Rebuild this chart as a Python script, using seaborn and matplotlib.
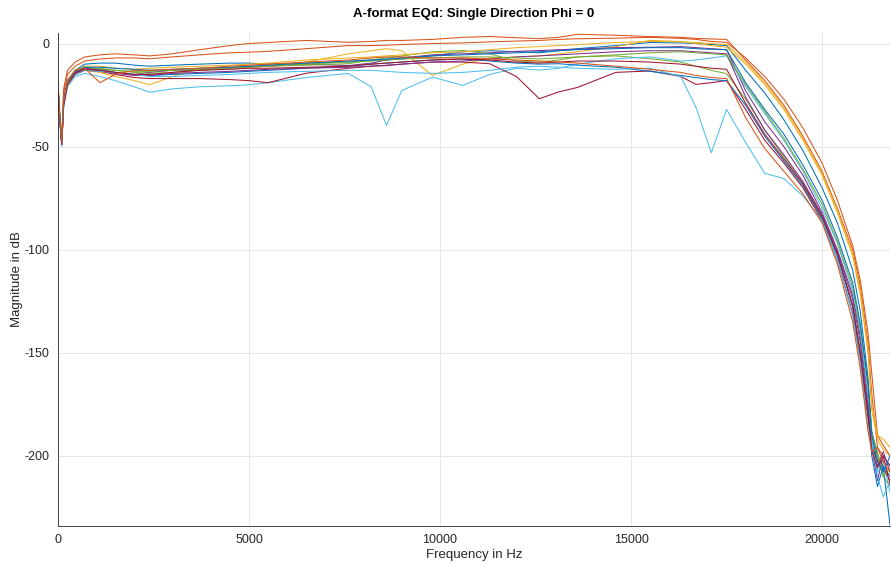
import numpy as np
import pandas as pd
import matplotlib
matplotlib.use("Agg")
import matplotlib.pyplot as plt
import seaborn as sns

freq = [0, 50, 100, 150, 250, 450, 700, 1100, 1500, 2000, 2400, 3000, 3700, 4500,
        5000, 5500, 6500, 7600, 8200, 8600, 9000, 9800, 10600, 11300, 12000, 12600,
        13100, 13600, 14600, 15500, 16300, 16700, 17100, 17500,
        18000, 18500, 19000, 19500, 20000, 20400, 20800, 21000, 21200, 21300,
        21450, 21600, 21780]

blue_a = [-20, -36, -48, -27, -18, -13, -10, -9.5, -9.5, -10.5, -11, -10.5, -10, -9.5,
          -9.5, -10, -9.5, -9, -8, -8, -7.5, -6, -4, -3.5, -4, -4.5,
          -3.5, -2.5, -1, 0.5, 0.3, 0, -0.5, -1,
          -13, -24, -37, -52, -70, -87, -110, -130, -162, -188, -200, -205, -210]
orange_a = [-18, -34, -46, -22, -13, -9, -6.5, -5.5, -5, -5.5, -6, -5, -3, -1,
            0, 0.5, 1.5, 0.6, 1, 1.5, 1.5, 2, 3, 3.4, 2.8, 2.4,
            3, 4.5, 4, 3.4, 3, 2.5, 2.2, 2,
            -8, -18, -30, -45, -62, -80, -100, -118, -145, -170, -196, -200, -205]
yellow_a = [-21, -37, -49, -30, -20, -15, -13, -14, -16, -18, -20, -16, -12, -12,
            -11.5, -11, -9, -5, -3.5, -2.5, -3.5, -15.5, -10, -7, -6.5, -6,
            -5, -4, -1.5, 1.5, 1, 0, -1, -1.8,
            -10, -20, -32, -47, -64, -82, -103, -122, -150, -178, -192, -197, -200]
purple_a = [-21, -37, -49, -29, -19, -14, -12, -12.5, -14, -15, -14, -13, -13, -12,
            -11, -11, -10, -10.7, -9.5, -8, -7, -5.5, -5, -4.5, -3.8, -3.4,
            -3, -2.7, -2, -1.8, -1.5, -2, -2.5, -3,
            -23, -38, -50, -64, -82, -100, -122, -142, -172, -193, -205, -198, -208]
green_a = [-20, -36, -48, -28, -19, -14, -12, -12.5, -13, -14, -14.5, -14, -13, -12,
           -11.5, -11, -10.5, -9.8, -8, -7, -6, -4, -3.4, -5, -8.5, -9,
           -8, -6.5, -6, -7.4, -9, -11, -13, -14.6,
           -27, -42, -55, -68, -84, -102, -127, -149, -178, -195, -200, -210, -215]
cyan_a = [-22, -38, -50, -31, -21, -16, -14.5, -16, -18, -21, -23.6, -22, -21, -20.5,
          -20, -19, -16.5, -14.5, -21, -39.7, -22.8, -16.3, -20.3, -15, -12, -12.9,
          -12, -10, -7.4, -6.5, -8.5, -8, -7, -6,
          -21, -34, -47, -62, -80, -97, -120, -140, -170, -192, -208, -202, -218]
maroon_a = [-21, -37, -49, -30, -20, -15, -13, -13.5, -15, -16.5, -17, -17, -17, -17.5,
            -18, -19, -14.4, -12, -11, -10.7, -10, -9, -9, -9.8, -16, -26.8,
            -23.5, -21.3, -14, -13.3, -16, -19.8, -19, -18,
            -32, -47, -58, -70, -86, -105, -131, -153, -182, -196, -202, -206, -212]
blue_b = [-20, -36, -48, -28, -19, -14, -12.5, -13, -14, -15, -15.5, -15, -14.5, -14,
          -13.5, -13, -12, -11, -10, -9.5, -9, -8, -7.5, -8.5, -9.5, -10,
          -9.8, -10.5, -11.5, -13.5, -15.5, -16.5, -17.5, -18,
          -30, -45, -57, -69, -85, -103, -128, -151, -180, -200, -215, -205, -234]
orange_b = [-19, -35, -47, -24, -15, -11, -8.5, -7.5, -7, -7, -7.4, -6.5, -5.5, -4.5,
            -4.2, -3.8, -2.5, -1, -1, -0.8, -0.5, 0, 0.3, 0.8, 1.2, 1.5,
            2, 2.3, 2.6, 3, 2.5, 2, 1, 0.6,
            -7, -16, -27, -41, -58, -76, -98, -115, -140, -160, -190, -195, -200]
yellow_b = [-20, -36, -48, -27, -18, -13, -11, -11, -12, -12.5, -12, -11.5, -11, -10.5,
            -10, -9.5, -8, -7, -6.5, -6, -5.5, -4.5, -4, -3, -2, -1.5,
            -1, -0.5, 0.5, 1, 0.8, 0.5, 0, -0.5,
            -9, -19, -31, -46, -63, -81, -102, -120, -148, -175, -190, -192, -196]
purple_b = [-21, -37, -49, -29, -19, -14, -12, -13, -14.5, -15.5, -15.5, -14.5, -14, -13.5,
            -13, -12.5, -12, -11.5, -11, -10.5, -10, -9, -8.5, -7.5, -6.5, -6,
            -5.5, -5, -4, -3.5, -3.5, -4, -4.5, -5,
            -26, -42, -54, -67, -83, -101, -124, -145, -176, -196, -212, -200, -205]
green_b = [-20, -36, -48, -28, -19, -13, -11.5, -12, -13, -13.5, -13.5, -13, -12.5, -12,
           -11.5, -11, -10, -9, -8.5, -8, -7.5, -7, -6.5, -6.5, -7, -7.5,
           -7, -6.5, -5.5, -4.5, -4, -4.5, -5, -5.5,
           -20, -33, -46, -61, -78, -96, -118, -138, -166, -189, -198, -210, -206]
cyan_b = [-21, -37, -49, -30, -20, -15, -13, -13.5, -14, -15, -16, -16, -15.5, -15,
          -14.5, -14, -13.5, -13, -13, -13.5, -14, -14.5, -14, -13, -11.5, -11,
          -11.5, -12, -12.5, -12, -16, -31, -53, -32,
          -48, -63, -65.5, -74, -86, -105, -132, -155, -186, -194, -210, -220, -212]
maroon_b = [-21, -37, -49, -30, -20, -14.5, -12.5, -13, -14, -15, -15, -14, -13, -12.5,
            -12, -12, -11.5, -11, -10, -9.5, -9, -8, -7.5, -8, -9, -9.5,
            -9, -8.5, -8.5, -9, -10, -11, -12, -12.5,
            -29, -44, -56, -68, -84, -102, -127, -150, -179, -197, -206, -200, -214]
blue_c = [-20, -36, -48, -27, -18, -13.5, -11.5, -11.5, -12, -12.5, -13, -12.5, -12, -11.5,
          -11, -10.5, -9.5, -8.5, -8, -7.5, -7, -6, -5.5, -5, -4.5, -4,
          -3.5, -3, -2.5, -2, -2, -2.5, -2.8, -3,
          -19, -32, -44, -59, -76, -94, -116, -136, -165, -190, -203, -208, -200]
orange_c = [-20, -36, -48, -28, -18, -13, -12, -19, -15, -13, -13, -12.5, -12, -11,
            -10.5, -10, -9, -8, -7, -6.5, -6.5, -7, -7, -7.5, -8, -8.5,
            -9, -9.5, -11, -12.5, -14, -15.5, -16.5, -17,
            -36, -51, -62, -73, -87, -107, -135, -158, -188, -198, -196, -203, -208]

series_names = ["blue_a", "orange_a", "yellow_a", "purple_a", "green_a", "cyan_a",
                "maroon_a", "blue_b", "orange_b", "yellow_b", "purple_b", "green_b",
                "cyan_b", "maroon_b", "blue_c", "orange_c"]
series_values = [blue_a, orange_a, yellow_a, purple_a, green_a, cyan_a, maroon_a,
                 blue_b, orange_b, yellow_b, purple_b, green_b, cyan_b, maroon_b,
                 blue_c, orange_c]

matlab_colors = ["#0072BD", "#D95319", "#EDB120", "#7E2F8E", "#77AC30", "#4DBEEE", "#A2142F"]
palette = [matlab_colors[i % 7] for i in range(len(series_names))]

x_ticks = [0, 5000, 10000, 15000, 20000]
y_ticks = [-200, -150, -100, -50, 0]

rows = []
for name, vals in zip(series_names, series_values):
    for f, v in zip(freq, vals):
        rows.append({"curve": name, "freq": f, "mag": v})
df = pd.DataFrame(rows)

sns.set_theme(style="white")
plt.rcParams["font.family"] = ["Liberation Sans", "DejaVu Sans"]

fig = plt.figure(figsize=(8.91, 5.63), dpi=100)
ax = fig.add_axes([0.065, 0.066, 0.934, 0.875])

sns.lineplot(data=df, x="freq", y="mag", hue="curve", hue_order=series_names,
             palette=palette, estimator=None, sort=False, linewidth=0.75,
             legend=False, ax=ax)

ax.set_xlim(0, 21780)
ax.set_ylim(-234, 5)
ax.set_xticks(x_ticks)
ax.set_yticks(y_ticks)
ax.set_xticklabels([str(t) for t in x_ticks])
ax.set_yticklabels([str(t) for t in y_ticks])
ax.grid(True, color="#e6e6e6", linewidth=0.7)
ax.set_axisbelow(True)
for side in ["top", "right"]:
    ax.spines[side].set_visible(False)
for side in ["left", "bottom"]:
    ax.spines[side].set_color("#262626")
    ax.spines[side].set_linewidth(0.6)
ax.tick_params(axis="both", direction="in", length=4, width=0.6, color="#262626",
               labelsize=9, labelcolor="#262626", pad=6)
ax.set_xlabel("Frequency in Hz", fontsize=9.5, color="#262626", labelpad=2)
ax.set_ylabel("Magnitude in dB", fontsize=9.5, color="#262626", labelpad=1)
ax.set_title("A-format EQd: Single Direction Phi = 0", fontsize=9.5,
             fontweight="bold", color="black", pad=12)

fig.savefig("out.png", dpi=100)
